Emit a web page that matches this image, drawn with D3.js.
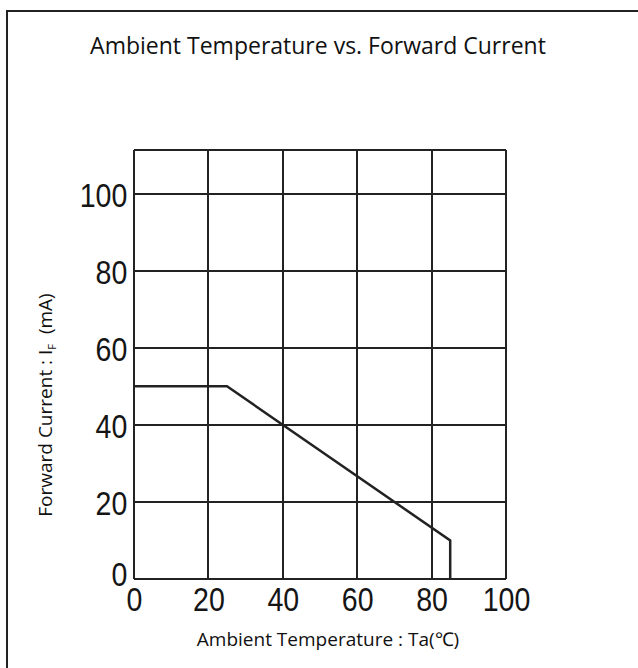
<!DOCTYPE html>
<html>
<head>
<meta charset="utf-8">
<script src="https://cdn.jsdelivr.net/npm/d3@7"></script>
<style>
  html, body { margin: 0; padding: 0; background: #fff; }
  #chart line { shape-rendering: crispEdges; }
</style>
</head>
<body>
<div id="chart"></div>
<script>
/*global d3*/
(function () {
    "use strict";

    // derating curve
    var temperature = [0, 25, 85, 85],
        current = [50, 50, 10, 0],
        xTicks = [0, 20, 40, 60, 80, 100],
        yTicks = [0, 20, 40, 60, 80, 100],
        title = "Ambient Temperature vs. Forward Current",
        xTitle = "Ambient Temperature : Ta(\u2103)",
        width = 638,
        height = 668,
        plot = {left: 134, right: 506, top: 150, bottom: 579},
        tickFont = "'Liberation Sans Narrow', 'Arial Narrow', 'Liberation Sans', Arial, sans-serif",
        labelFont = "'Open Sans', sans-serif",
        svg, x, y, grid, points, yLab;

    svg = d3.select('#chart')
        .append('svg')
        .attr("width", width)
        .attr("height", height);

    // outer frame runs off the window on the right and bottom
    svg.append('rect')
        .attr("x", 7)
        .attr("y", 11)
        .attr("width", width)
        .attr("height", height)
        .attr("fill", "none")
        .attr("stroke", "#222")
        .attr("stroke-width", 2);

    svg.append('text')
        .attr("x", 318)
        .attr("y", 54)
        .attr("text-anchor", "middle")
        .attr("font-family", labelFont)
        .attr("font-size", 23)
        .attr("fill", "#111")
        .text(title);

    x = d3.scaleLinear().domain([0, 100]).range([plot.left, plot.right]);
    y = d3.scaleLinear().domain([0, 111.3]).range([plot.bottom, plot.top]);

    grid = svg.append('g').attr('class', 'grid')
        .attr("stroke", "#222")
        .attr("stroke-width", 2);

    grid.selectAll('line.v').data(xTicks).enter().append('line')
        .attr('class', 'v')
        .attr('x1', function (d) { return Math.round(x(d)); })
        .attr('x2', function (d) { return Math.round(x(d)); })
        .attr('y1', plot.top)
        .attr('y2', plot.bottom);

    grid.selectAll('line.h').data(yTicks).enter().append('line')
        .attr('class', 'h')
        .attr('y1', function (d) { return Math.round(y(d)); })
        .attr('y2', function (d) { return Math.round(y(d)); })
        .attr('x1', plot.left)
        .attr('x2', plot.right);

    grid.append('line')
        .attr('x1', plot.left).attr('x2', plot.right)
        .attr('y1', plot.top).attr('y2', plot.top);

    // tick labels via d3 axes, with the axis lines hidden; glyphs squeezed to look narrow
    svg.append('g')
        .attr("transform", "translate(0," + plot.bottom + ")")
        .call(d3.axisBottom(x).tickValues(xTicks).tickSize(0).tickPadding(8))
        .call(function (g) {
            g.select('.domain').remove();
            g.selectAll('text')
                .attr("font-family", tickFont)
                .attr("font-size", 34)
                .attr("fill", "#151515")
                .attr("dy", "0.71em")
                .attr("transform", "scale(0.84,1)");
        });

    svg.append('g')
        .attr("transform", "translate(" + plot.left + ",0)")
        .call(d3.axisLeft(y).tickValues(yTicks).tickSize(0).tickPadding(8))
        .call(function (g) {
            g.select('.domain').remove();
            g.selectAll('text')
                .attr("font-family", tickFont)
                .attr("font-size", 34)
                .attr("fill", "#151515")
                .attr("dy", function (d) { return d === 0 ? "0.18em" : "0.38em"; })
                .attr("transform", "scale(0.84,1)");
        });

    points = temperature.map(function (t, i) {
        return [x(t), y(current[i])];
    });

    svg.append('path')
        .datum(points)
        .attr("d", d3.line())
        .attr("fill", "none")
        .attr("stroke", "#222")
        .attr("stroke-width", 2.5)
        .attr("stroke-linejoin", "miter");

    svg.append('text')
        .attr("x", 328)
        .attr("y", 646)
        .attr("text-anchor", "middle")
        .attr("font-family", labelFont)
        .attr("font-size", 19)
        .attr("fill", "#111")
        .text(xTitle);

    yLab = svg.append('text')
        .attr("transform", "translate(52,405) rotate(-90)")
        .attr("text-anchor", "middle")
        .attr("font-family", labelFont)
        .attr("font-size", 19)
        .attr("fill", "#111");
    yLab.append('tspan').text("Forward Current : I");
    yLab.append('tspan').attr("font-size", 11).attr("dy", 4).text("F");
    yLab.append('tspan').attr("dy", -4).text("\u00a0\u00a0(mA)");
}());
</script>
</body>
</html>
